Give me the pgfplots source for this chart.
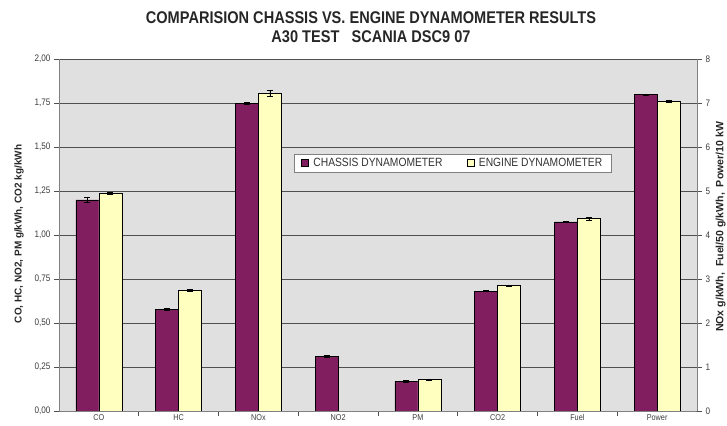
\documentclass[border=0pt]{standalone}
\usepackage{pgfplots}
\pgfplotsset{compat=1.18}
\usepackage{fontspec}
\setmainfont{Liberation Sans}
\newfontfamily\narrowfont{Liberation Sans}[FakeStretch=0.86]
\definecolor{chassis}{RGB}{128,30,96}
\definecolor{engine}{RGB}{255,255,192}
\definecolor{bggray}{RGB}{224,224,224}
\definecolor{gridgray}{RGB}{80,80,80}
\definecolor{txtgray}{RGB}{60,60,60}

\pgfplotstableread{
x y e
0 1.200 0.012
1 0.577 0.004
3 0.310 0.005
4 0.168 0.004
5 0.680 0.003
}\chassisleft
\pgfplotstableread{
x y e
0 1.237 0.008
1 0.685 0.004
4 0.178 0.004
5 0.712 0.004
}\engineleft
\pgfplotstableread{
x y e
2 6.99 0.03
6 4.30 0.01
7 7.19 0.01
}\chassisright
\pgfplotstableread{
x y e
2 7.22 0.06
6 4.37 0.03
7 7.03 0.02
}\engineright

\begin{document}
\begin{tikzpicture}
\pgfplotsset{
  base/.style={
    scale only axis, width=638bp, height=352bp,
    xmin=-0.5, xmax=7.5, ymin=0,
    ybar=0pt, bar width=23bp,
    tick align=outside,
    major tick length=5bp,
    tick style={gridgray, line width=0.6pt},
    axis line style={gray, line width=0.8pt},
    /pgf/number format/assume math mode=true,
    ticklabel style={font=\narrowfont\fontsize{9.5}{11}\selectfont, text=txtgray},
  },
  errs/.style={/pgfplots/error bars/.cd, y dir=both, y explicit,
    error bar style={black, line width=0.7pt},
    error mark options={rotate=90, mark size=3bp, black, line width=0.7pt}},
}
\begin{axis}[base,
  ymax=2,
  ytick={0,0.25,0.5,0.75,1,1.25,1.5,1.75,2},
  yticklabel style={/pgf/number format/.cd, fixed, fixed zerofill, precision=2, use comma},
  axis x line*=bottom, axis y line*=left,
  ymajorgrids, grid style={gridgray, line width=0.6pt},
  axis background/.style={fill=bggray},
  xtick={0,...,7},
  xticklabels={CO,HC,NOx,NO2,PM,CO2,Fuel,Power},
  xticklabel style={font=\narrowfont\fontsize{8.5}{10}\selectfont, inner sep=1bp, yshift=3bp},
  major x tick style={draw=none},
  minor xtick={0.5,1.5,2.5,3.5,4.5,5.5,6.5},
  minor tick length=5bp,
  minor x tick style={gridgray, line width=0.6pt},
  every axis y label/.style={at={(axis description cs:-0.0627,0.503)}, anchor=center, rotate=90,
    font=\bfseries\fontsize{10}{12}\selectfont, text=black!85},
  ylabel={CO, HC, NO2, PM g/kWh, CO2 kg/kWh},
  legend style={at={(0.617,0.705)}, anchor=center, draw=gray, fill=white,
    font=\narrowfont\fontsize{12}{13}\selectfont, text=black!80, legend columns=2,
    /tikz/every even column/.append style={column sep=22bp},
    inner ysep=2bp, inner xsep=7bp},
]
\addplot[fill=chassis, draw=black, line width=0.5pt, legend image code/.code={\draw[draw=black, line width=0.4pt, fill=chassis] (-1bp,-3.5bp) rectangle (6bp,3.5bp);}, errs] table[x=x, y=y, y error=e] {\chassisleft};
\addlegendentry{\hspace{3bp}CHASSIS DYNAMOMETER}
\addplot[fill=engine, draw=black, line width=0.5pt, legend image code/.code={\draw[draw=black, line width=0.4pt, fill=engine] (-1bp,-3.5bp) rectangle (6bp,3.5bp);}, errs] table[x=x, y=y, y error=e] {\engineleft};
\addlegendentry{\hspace{3bp}ENGINE DYNAMOMETER}
\end{axis}
\begin{axis}[base,
  ymax=8,
  ytick={0,1,2,3,4,5,6,7,8},
  axis x line=none, axis y line*=right,
  every axis y label/.style={at={(axis description cs:1.037,0.523)}, anchor=center, rotate=90,
    font=\bfseries\fontsize{10.6}{12}\selectfont, text=black!85},
  ylabel={NOx g/kWh,\ \ Fuel/50 g/kWh,\ \ Power/10 kW},
]
\addplot[fill=chassis, draw=black, line width=0.5pt, errs] table[x=x, y=y, y error=e] {\chassisright};
\addplot[fill=engine, draw=black, line width=0.5pt, errs] table[x=x, y=y, y error=e] {\engineright};
\end{axis}
\node[font=\narrowfont\bfseries\fontsize{17}{19}\selectfont, align=center, text=black!85] at (312bp,383.5bp)
  {COMPARISION CHASSIS VS. ENGINE DYNAMOMETER RESULTS\\A30 TEST\ \ \ SCANIA DSC9 07};
\pgfresetboundingbox
\path (-59bp,-15bp) rectangle (668bp,411bp);
\end{tikzpicture}
\end{document}
